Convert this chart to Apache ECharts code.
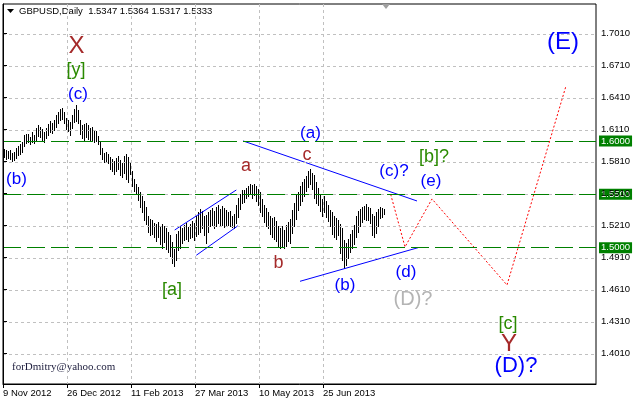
<!DOCTYPE html>
<html><head><meta charset="utf-8">
<script src="https://cdn.jsdelivr.net/npm/echarts@6/dist/echarts.min.js"></script>
<style>html,body{margin:0;padding:0;background:#fff}#c{width:634px;height:403px}</style>
</head><body><div id="c"></div>
<script>
// ---- data ----
const highs = [
1.5925,1.5920,1.5905,1.5915,1.5890,1.5900,1.5930,1.5950,1.5975,1.5990,
1.6060,1.6070,1.6065,1.6040,1.6080,1.6060,1.6120,1.6150,1.6130,1.6110,
1.6085,1.6120,1.6160,1.6190,1.6170,1.6200,1.6240,1.6270,1.6300,1.6310,
1.6270,1.6220,1.6200,1.6180,1.6240,1.6300,1.6340,1.6290,1.6200,1.6150,
1.6160,1.6170,1.6150,1.6120,1.6130,1.6100,1.6090,1.6050,1.6000,1.5930,
1.5890,1.5900,1.5880,1.5850,1.5830,1.5810,1.5840,1.5860,1.5820,1.5790,
1.5860,1.5880,1.5850,1.5800,1.5720,1.5640,1.5600,1.5570,1.5520,1.5480,
1.5440,1.5380,1.5300,1.5270,1.5260,1.5230,1.5220,1.5240,1.5190,1.5220,
1.5200,1.5180,1.5150,1.5120,1.5050,1.4990,1.5130,1.5160,1.5200,1.5180,
1.5210,1.5230,1.5190,1.5220,1.5250,1.5230,1.5300,1.5330,1.5360,1.5340,
1.5300,1.5310,1.5330,1.5350,1.5370,1.5340,1.5380,1.5400,1.5360,1.5390,
1.5370,1.5350,1.5330,1.5340,1.5300,1.5320,1.5400,1.5470,1.5500,1.5540,
1.5540,1.5560,1.5580,1.5600,1.5590,1.5600,1.5580,1.5550,1.5520,1.5460,
1.5400,1.5370,1.5330,1.5300,1.5280,1.5290,1.5250,1.5200,1.5180,1.5200,
1.5170,1.5210,1.5240,1.5270,1.5350,1.5420,1.5500,1.5520,1.5580,1.5620,
1.5640,1.5670,1.5720,1.5740,1.5700,1.5680,1.5620,1.5560,1.5500,1.5460,
1.5480,1.5440,1.5400,1.5350,1.5330,1.5300,1.5280,1.5260,1.5220,1.5180,
1.5070,1.5040,1.5080,1.5130,1.5170,1.5210,1.5300,1.5340,1.5360,1.5380,
1.5390,1.5410,1.5380,1.5370,1.5320,1.5300,1.5330,1.5360,1.5380,1.5370,
1.5364];
const lows = [
1.5850,1.5835,1.5840,1.5830,1.5810,1.5820,1.5845,1.5870,1.5880,1.5900,
1.5950,1.5985,1.5990,1.5970,1.5995,1.5985,1.6010,1.6050,1.6040,1.6010,
1.5995,1.6030,1.6060,1.6080,1.6075,1.6100,1.6130,1.6170,1.6200,1.6210,
1.6170,1.6110,1.6090,1.6060,1.6120,1.6180,1.6190,1.6170,1.6070,1.6030,
1.6010,1.6040,1.6020,1.6010,1.6000,1.5990,1.6000,1.5970,1.5880,1.5830,
1.5800,1.5810,1.5790,1.5740,1.5720,1.5690,1.5720,1.5740,1.5680,1.5660,
1.5700,1.5640,1.5620,1.5690,1.5580,1.5530,1.5510,1.5450,1.5380,1.5330,
1.5260,1.5220,1.5150,1.5120,1.5130,1.5100,1.5060,1.5100,1.5030,1.5000,
1.5050,1.4990,1.4960,1.4920,1.4860,1.4830,1.4880,1.4980,1.5000,1.5040,
1.5070,1.5080,1.5060,1.5090,1.5100,1.5070,1.5110,1.5130,1.5150,1.5180,
1.5120,1.5040,1.5150,1.5200,1.5210,1.5180,1.5200,1.5230,1.5200,1.5210,
1.5190,1.5200,1.5210,1.5200,1.5190,1.5180,1.5230,1.5290,1.5360,1.5420,
1.5430,1.5470,1.5480,1.5500,1.5470,1.5490,1.5440,1.5400,1.5330,1.5300,
1.5240,1.5200,1.5180,1.5130,1.5100,1.5080,1.5060,1.5010,1.5000,1.5010,
1.5000,1.5020,1.5060,1.5040,1.5140,1.5200,1.5270,1.5350,1.5400,1.5440,
1.5480,1.5530,1.5570,1.5600,1.5550,1.5470,1.5420,1.5400,1.5340,1.5300,
1.5330,1.5290,1.5250,1.5200,1.5130,1.5100,1.5080,1.5120,1.4950,1.4880,
1.4810,1.4840,1.4900,1.4960,1.5000,1.5030,1.5100,1.5150,1.5200,1.5240,
1.5270,1.5260,1.5260,1.5230,1.5120,1.5100,1.5140,1.5200,1.5280,1.5290,
1.5317];
const dateLabels = ['9 Nov 2012','26 Dec 2012','11 Feb 2013','27 Mar 2013','10 May 2013','25 Jun 2013'];
const dateLabelPos = [0,32,64,96,128,160];
const priceTicks = [1.4010,1.4310,1.4610,1.4910,1.5210,1.5510,1.5810,1.6110,1.6410,1.6710,1.7010];
const levels = [1.6000,1.5500,1.5000];
const channelUpper = [[85.85,1.5166],[116.65,1.5541]];
const channelLower = [[96.65,1.4929],[117.5,1.5206]];
const triangleTop = [[120,1.6001],[207,1.5438]];
const triangleBottom = [[148.5,1.4685],[207.5,1.5000]];
const projection = [[193.85,1.5500],[201,1.5007],[214.5,1.5457],[252,1.4650],[281.5,1.6517]];
const headerText = 'GBPUSD,Daily  1.5347 1.5364 1.5317 1.5333';
const emailText = 'forDmitry@yahoo.com';
const annotations = [
  {t:'X', x:36.75, y:1.6886, k:'redBig'},
  {t:'[y]', x:36.5, y:1.6666, k:'green'},
  {t:'(c)', x:37.5, y:1.6441, k:'blue'},
  {t:'(b)', x:6.75, y:1.5644, k:'blue'},
  {t:'[a]', x:84.5, y:1.4603, k:'green'},
  {t:'a', x:121.5, y:1.5766, k:'red'},
  {t:'b', x:137.75, y:1.4857, k:'red'},
  {t:'c', x:152, y:1.5869, k:'red'},
  {t:'(a)', x:153.75, y:1.6075, k:'blue'},
  {t:'(b)', x:171, y:1.4650, k:'blue'},
  {t:'(c)?', x:195.5, y:1.5719, k:'blue'},
  {t:'[b]?', x:215.5, y:1.5850, k:'green'},
  {t:'(e)', x:214, y:1.5625, k:'blue'},
  {t:'(d)', x:201.5, y:1.4772, k:'blue'},
  {t:'(D)?', x:205, y:1.4510, k:'gray'},
  {t:'[c]', x:252.5, y:1.4285, k:'green'},
  {t:'Y', x:253, y:1.4097, k:'redBig'},
  {t:'(D)?', x:256.5, y:1.3891, k:'blueD'},
  {t:'(E)', x:280, y:1.6928, k:'blueBig'}
];
// ---- styles ----
const SANS = "'Liberation Sans',Arial,sans-serif";
const labelStyles = {
  red:{color:'#a52a2a', size:18},
  redBig:{color:'#a52a2a', size:24},
  green:{color:'#2a8a00', size:18},
  blue:{color:'#0000ff', size:17},
  blueD:{color:'#0000ff', size:22},
  blueBig:{color:'#0000ff', size:24},
  gray:{color:'#b4b4b4', size:20}
};
const chart = echarts.init(document.getElementById('c'), null, {renderer:'canvas'});
function seg(data, color, type){
  return {type:'line', data:data, symbol:'none', silent:true, z:4, animation:false,
    lineStyle:{color:color, width:1, type:type||'solid'}};
}
chart.setOption({
  animation:false,
  backgroundColor:'#fff',
  grid:{left:3, right:38, top:4, bottom:19, show:true, borderColor:'#000', borderWidth:1, backgroundColor:'#fff'},
  xAxis:{type:'value', min:0, max:296.5, interval:16,
    axisLine:{show:true, onZero:false, lineStyle:{color:'#000'}},
    axisTick:{show:true, customValues:dateLabelPos, length:4, lineStyle:{color:'#000'}},
    axisLabel:{customValues:dateLabelPos, formatter:v=>{const i=dateLabelPos.indexOf(v);return i>=0?dateLabels[i]:'';},
      align:'left', margin:4, fontSize:9.5, fontFamily:SANS, color:'#000'},
    splitLine:{show:true, lineStyle:{color:'#c0c0c0', type:[3,3], width:1}}
  },
  yAxis:{type:'value', position:'right', min:1.37222, max:1.72846, z:10,
    axisLine:{show:true, lineStyle:{color:'#000'}},
    axisTick:{show:true, customValues:priceTicks, length:4, lineStyle:{color:'#000'}},
    axisLabel:{customValues:priceTicks, formatter:v=>v.toFixed(4), margin:5, fontSize:9.5, fontFamily:SANS, color:'#000'},
    splitLine:{show:false}
  },
  graphic:[
    {type:'polygon', shape:{points:[[7,9],[14,9],[10.5,13]]}, style:{fill:'#000'}},
    {type:'text', x:19, y:11, style:{text:headerText, fill:'#000', font:"9.5px "+SANS, verticalAlign:'middle'}},
    {type:'text', x:12, y:367, style:{text:emailText, fill:'#1c1c3c', font:"11px 'Liberation Serif','Times New Roman',serif", verticalAlign:'middle'}},
    {type:'polygon', shape:{points:[[382,4],[390,4],[386,9]]}, style:{fill:'#a0a0a0'}}
  ],
  series:[
    {type:'line', data:[], z:1, silent:true,
      markLine:{silent:true, symbol:'none', animation:false, label:{show:false},
        lineStyle:{color:'#c0c0c0', type:[3,3], width:1}, data:priceTicks.map(v=>({yAxis:v}))}},
    {type:'custom', z:3, silent:true,
      data:highs.map((h,i)=>[i+0.5, h, lows[i]]),
      encode:{x:0, y:[1,2]},
      renderItem:function(params, api){
        const p1 = api.coord([api.value(0), api.value(1)]);
        const p2 = api.coord([api.value(0), api.value(2)]);
        const px = Math.round(p1[0]) + 0.5;
        return {type:'line', shape:{x1:px, y1:Math.round(p1[1]), x2:px, y2:Math.round(p2[1])+1},
          style:{stroke:'#000', lineWidth:1}};
      }},
    {type:'line', data:[], z:5, silent:true,
      markLine:{silent:true, symbol:'none', animation:false,
        lineStyle:{color:'#008000', type:[18,6], width:1},
        label:{show:true, position:'end', formatter:p=>p.value.toFixed(4), color:'#fff',
          backgroundColor:'#008000', padding:[1,2,0,2], fontSize:9.5, fontFamily:SANS, distance:3},
        data:levels.map(v=>({yAxis:v}))}},
    seg(channelUpper, '#0000ff'),
    seg(channelLower, '#0000ff'),
    seg(triangleTop, '#0000ff'),
    seg(triangleBottom, '#0000ff'),
    seg(projection, '#ff0000', [2,2]),
    {type:'custom', z:6, silent:true,
      data:annotations.map(a=>[a.x, a.y]),
      renderItem:function(params, api){
        const a = annotations[params.dataIndex];
        const st = labelStyles[a.k];
        const pt = api.coord([api.value(0), api.value(1)]);
        return {type:'text', x:pt[0], y:pt[1],
          style:{text:a.t, fill:st.color, fontSize:st.size, fontFamily:SANS, align:'center', verticalAlign:'middle'}};
      }}
  ]
});
</script></body></html>
